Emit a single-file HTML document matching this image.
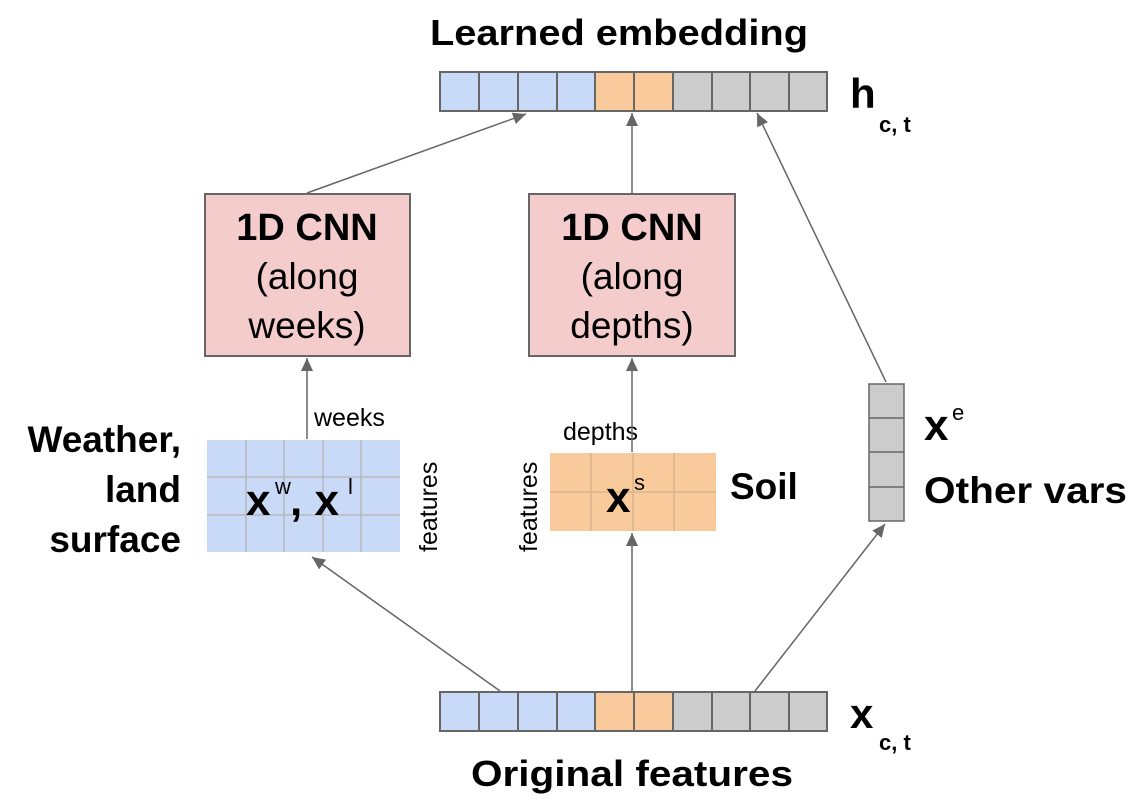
<!DOCTYPE html>
<html><head><style>
html,body{margin:0;padding:0;background:#fff;}
svg{display:block;font-family:"Liberation Sans",sans-serif;}
.b{font-weight:bold;}
</style></head><body>
<svg width="1143" height="804" viewBox="0 0 1143 804" xmlns="http://www.w3.org/2000/svg">
<defs>
<marker id="a" markerWidth="14" markerHeight="14" refX="13" refY="6" orient="auto" markerUnits="userSpaceOnUse">
<path d="M0,0 L13,6 L0,12 z" fill="#666"/>
</marker>
</defs>
<text x="619" y="45" font-size="36" class="b" text-anchor="middle" textLength="378" lengthAdjust="spacingAndGlyphs">Learned embedding</text>
<g stroke="#666" stroke-width="2">
<rect x="440" y="72" width="155" height="39" fill="#c9daf8"/>
<rect x="595" y="72" width="78" height="39" fill="#f9cb9c"/>
<rect x="673" y="72" width="154" height="39" fill="#cccccc"/>
<path d="M479,72V111M518,72V111M557,72V111M634,72V111M712,72V111M750,72V111M789,72V111" fill="none"/>
<rect x="440" y="692" width="155" height="39" fill="#c9daf8"/>
<rect x="595" y="692" width="78" height="39" fill="#f9cb9c"/>
<rect x="673" y="692" width="154" height="39" fill="#cccccc"/>
<path d="M479,692V731M518,692V731M557,692V731M634,692V731M712,692V731M750,692V731M789,692V731" fill="none"/>
</g>
<text x="850" y="108" font-size="42" class="b">h</text><text x="879" y="132" font-size="22" class="b">c, t</text>
<text x="850" y="728" font-size="42" class="b">x</text><text x="879" y="750" font-size="22" class="b">c, t</text>
<text x="632" y="786" font-size="36" class="b" text-anchor="middle" textLength="322" lengthAdjust="spacingAndGlyphs">Original features</text>
<rect x="205" y="194" width="205" height="162" fill="#f4cccc" stroke="#666" stroke-width="2"/>
<rect x="529" y="194" width="206" height="162" fill="#f4cccc" stroke="#666" stroke-width="2"/>
<text x="307" y="240" font-size="38" class="b" text-anchor="middle">1D CNN</text>
<text x="307" y="289" font-size="37" text-anchor="middle">(along</text>
<text x="307" y="338" font-size="37" text-anchor="middle">weeks)</text>
<text x="632" y="240" font-size="38" class="b" text-anchor="middle">1D CNN</text>
<text x="632" y="289" font-size="37" text-anchor="middle">(along</text>
<text x="632" y="338" font-size="37" text-anchor="middle">depths)</text>
<rect x="207" y="440" width="193" height="112" fill="#c9daf8"/>
<path d="M246,440V552M284,440V552M323,440V552M361,440V552M207,477H400M207,515H400" stroke="#b7b7b7" stroke-width="1.5"/>
<text x="246" y="515" font-size="44" class="b">x</text><text x="275" y="494" font-size="22">w</text>
<text x="290" y="515" font-size="44" class="b">, x</text><text x="348" y="494" font-size="22">l</text>
<text x="314" y="426" font-size="25">weeks</text>
<text transform="translate(437,552) rotate(-90)" font-size="25">features</text>
<text x="181" y="452" font-size="37" class="b" text-anchor="end">Weather,</text>
<text x="181" y="502" font-size="37" class="b" text-anchor="end">land</text>
<text x="181" y="552" font-size="37" class="b" text-anchor="end">surface</text>
<rect x="550" y="453" width="166" height="78" fill="#f9cb9c"/>
<path d="M591,453V531M633,453V531M674,453V531M550,492H716" stroke="#d9b48c" stroke-width="1.5"/>
<text x="606" y="512" font-size="44" class="b">x</text><text x="634" y="490" font-size="22">s</text>
<text x="563" y="440" font-size="25">depths</text>
<text transform="translate(537,552) rotate(-90)" font-size="25">features</text>
<text x="730" y="499" font-size="37" class="b">Soil</text>
<g stroke="#666" stroke-width="1.5">
<rect x="869" y="384" width="35" height="137" fill="#cccccc"/>
<path d="M869,418H904M869,452H904M869,487H904"/>
</g>
<text x="924" y="440" font-size="44" class="b">x</text><text x="952" y="420" font-size="22">e</text>
<text x="924" y="503" font-size="37" class="b" textLength="203" lengthAdjust="spacingAndGlyphs">Other vars</text>
<g stroke="#666" stroke-width="1.5" fill="none" marker-end="url(#a)">
<line x1="307" y1="193" x2="526" y2="114"/>
<line x1="632" y1="193" x2="632" y2="113"/>
<line x1="886" y1="382" x2="757" y2="113"/>
<line x1="307" y1="439" x2="307" y2="358"/>
<line x1="632" y1="452" x2="632" y2="358"/>
<line x1="500" y1="691" x2="312" y2="557"/>
<line x1="632" y1="691" x2="632" y2="533"/>
<line x1="755" y1="691" x2="885" y2="524"/>
</g>
</svg>
</body></html>
